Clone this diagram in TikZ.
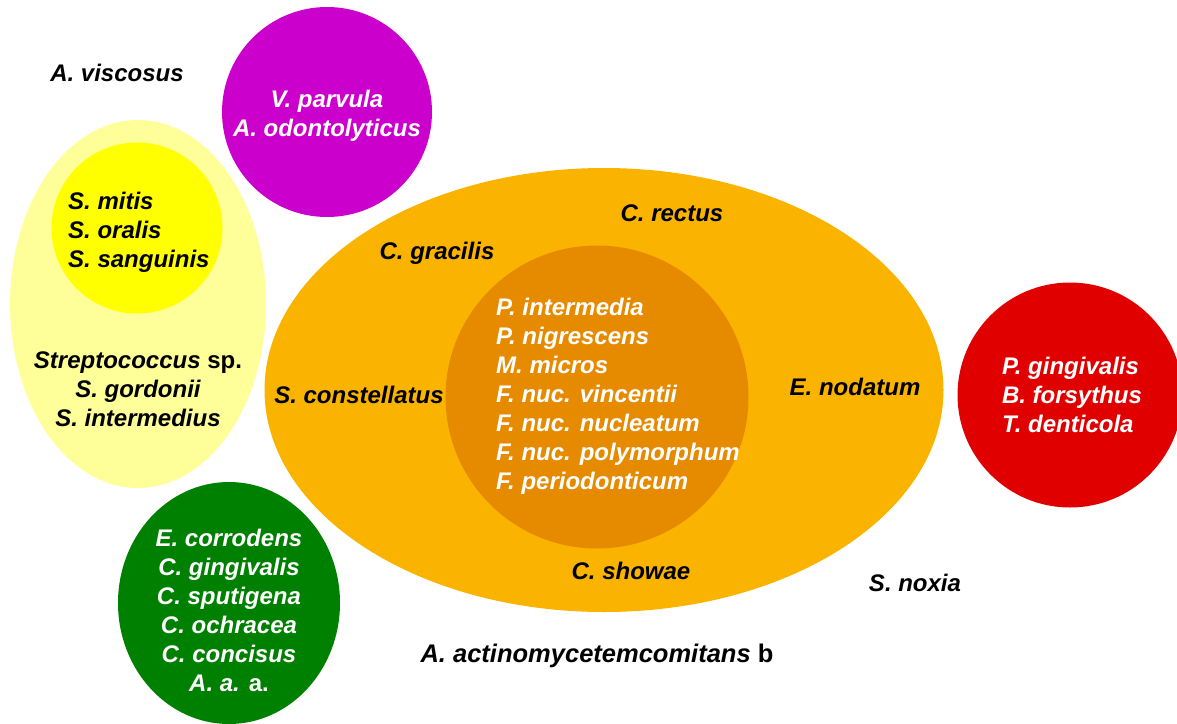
\documentclass[tikz,border=0pt]{standalone}
\usepackage{fontspec}
\setmainfont{Liberation Sans}
\usepackage{xcolor}
\usetikzlibrary{shapes.geometric}

\definecolor{paleyellow}{HTML}{FFFF99}
\definecolor{brightyellow}{HTML}{FFFF00}
\definecolor{purplecx}{HTML}{CC00CC}
\definecolor{orangecx}{HTML}{FAB400}
\definecolor{darkorangecx}{HTML}{E68A00}
\definecolor{greencx}{HTML}{008000}
\definecolor{redcx}{HTML}{E00000}

\tikzset{
    blob/.style = {ellipse, inner sep = 0pt},
    species/.style = {font = \fontsize{24}{29}\selectfont\bfseries\itshape, inner sep = 0pt}
}

\begin{document}
\begin{tikzpicture}[x = 1pt, y = -1pt]
        \useasboundingbox (0, 0) rectangle (1177, 723);
        % complexes
        \node (pale) at (138, 304) [blob, fill = paleyellow, minimum width = 256pt, minimum height = 368pt] {};
        \node (yellow) at (137, 228) [blob, fill = brightyellow, minimum size = 171pt] {};
        \node (purple) at (327, 112) [blob, fill = purplecx, minimum size = 210pt] {};
        \node (orange) at (604, 390) [blob, fill = orangecx, minimum width = 679pt, minimum height = 444pt] {};
        \node (inner) at (597, 397) [blob, fill = darkorangecx, minimum size = 303pt] {};
        \node (green) at (229, 603) [blob, fill = greencx, minimum width = 222pt, minimum height = 242pt] {};
        \node (red) at (1070, 395) [blob, fill = redcx, minimum size = 225pt] {};

        % members
        \node (viscosus) at (117, 73) [species] {A. viscosus};
        \node (purpletxt) at (327, 116) [species, text = white, align = center] {V. parvula\\A. odontolyticus};
        \node (yellowtxt) at (68, 232) [species, anchor = west, align = left] {S. mitis\\S. oralis\\S. sanguinis};
        \node (paletxt) at (138, 389) [species, align = center] {Streptococcus {\upshape sp.}\\S. gordonii\\S. intermedius};
        \node (innertxt) at (496, 396) [species, text = white, anchor = west, align = left] {P. intermedia\\P. nigrescens\\M. micros\\F. nuc. vincentii\\F. nuc. nucleatum\\F. nuc. polymorphum\\F. periodonticum};
        \node (rectus) at (672, 213) [species] {C. rectus};
        \node (gracilis) at (437, 253) [species] {C. gracilis};
        \node (constellatus) at (359, 395) [species] {S. constellatus};
        \node (nodatum) at (855, 387) [species] {E. nodatum};
        \node (showae) at (631, 571) [species] {C. showae};
        \node (greentxt) at (229, 610) [species, text = white, align = center] {E. corrodens\\C. gingivalis\\C. sputigena\\C. ochracea\\C. concisus\\A. a. {\upshape a.}};
        \node (redtxt) at (1072, 395) [species, text = white, align = left] {P. gingivalis\\B. forsythus\\T. denticola};
        \node (noxia) at (915, 583) [species] {S. noxia};
        \node (aab) at (597, 656) [species, font = \fontsize{25.5}{29}\selectfont\bfseries\itshape] {A. actinomycetemcomitans {\upshape b}};
    \end{tikzpicture}
\end{document}
